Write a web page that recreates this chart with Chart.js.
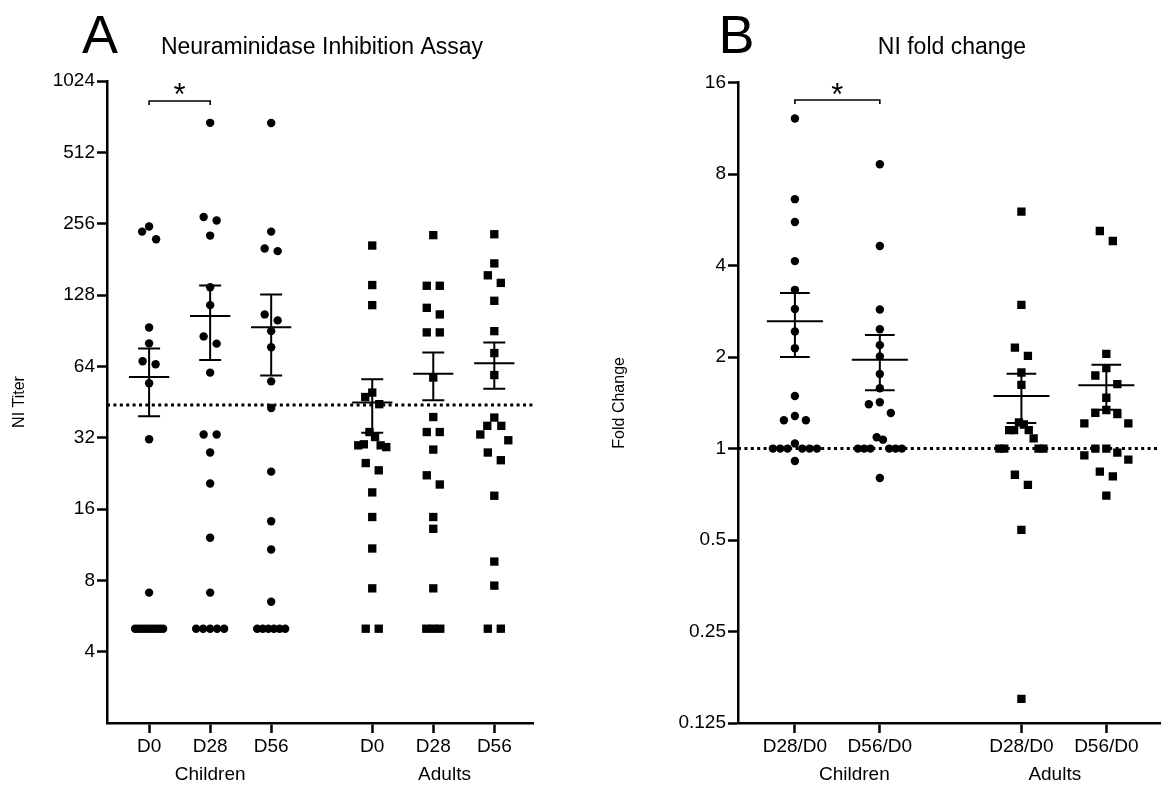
<!DOCTYPE html>
<html>
<head>
<meta charset="utf-8">
<title>Neuraminidase Inhibition Assay</title>
<script src="https://cdn.jsdelivr.net/npm/chart.js@4.4.1/dist/chart.umd.min.js"></script>
<style>
  body { margin: 0; background: #fff; }
  canvas { position: absolute; top: 0; }
</style>
</head>
<body>
<canvas id="chartA" width="583" height="787" style="left:0"></canvas>
<canvas id="chartB" width="583" height="787" style="left:583px"></canvas>
<script>
// panel A - NI titers per subject
var labelsA = ['D0', 'D28', 'D56', 'D0', 'D28', 'D56'];
var ticksA = [4, 8, 16, 32, 64, 128, 256, 512, 1024];
var childD0 = [249, 237, 220, 93.4, 80, 65.3, 67.2, 54.3, 31.5, 7.1, 5, 5, 5, 5, 5, 5, 5, 5, 5, 5];
var childD28 = [682, 273, 264, 228, 138, 116, 85.6, 79.8, 60.2, 33, 33, 27.7, 20.5, 12.1, 7.1, 5, 5, 5, 5, 5];
var childD56 = [681, 237, 196, 201, 106, 100, 90.1, 77, 55.3, 42.7, 23, 14.2, 10.8, 6.5, 5, 5, 5, 5, 5, 5];
var adultD0 = [207, 141, 116, 49.6, 47.5, 44.3, 33.8, 32.2, 29.7, 29.2, 29.7, 30, 25, 23.3, 18.8, 14.8, 10.9, 7.4, 5, 5];
var adultD28 = [229, 140, 140, 113, 106, 89, 89, 57.4, 39.1, 33.8, 33.8, 28.5, 22.2, 20.3, 14.8, 13.2, 7.4, 5, 5, 5];
var adultD56 = [231, 174, 155, 144, 121, 90.1, 72.8, 58.8, 38.9, 35.9, 35.9, 33, 31.2, 27.7, 25.7, 18.2, 9.6, 7.6, 5, 5];
var cutoffA = 44;

// panel B - fold change
var labelsB = ['D28/D0', 'D56/D0', 'D28/D0', 'D56/D0'];
var ticksB = [0.125, 0.25, 0.5, 1, 2, 4, 8, 16];
var childR28 = [12.2, 6.62, 5.57, 4.14, 3.33, 2.88, 2.43, 2.14, 1.49, 1.28, 1.24, 1.24, 1.04, 1, 1, 1, 1, 1, 1, 0.91];
var childR56 = [8.62, 4.64, 2.87, 2.47, 2.19, 2.01, 1.76, 1.58, 1.42, 1.40, 1.31, 1.09, 1.07, 1, 1, 1, 1, 1, 1, 0.80];
var adultR28 = [6.02, 2.97, 2.15, 2.02, 1.78, 1.62, 1.22, 1.15, 1.15, 1.15, 1.20, 1.08, 1, 1, 1, 1, 0.82, 0.76, 0.54, 0.15];
var adultR56 = [5.20, 4.82, 2.05, 1.84, 1.74, 1.63, 1.47, 1.31, 1.34, 1.30, 1.21, 1.21, 1, 1, 0.97, 0.92, 0.95, 0.84, 0.81, 0.70];
var cutoffB = 1;

var FONT = "'Liberation Sans', Arial, Helvetica, sans-serif";
Chart.defaults.font.family = FONT;
Chart.defaults.color = '#000';

function meanSem(a) {
  var n = a.length, m = 0, ss = 0;
  a.forEach(function(v){ m += v; });
  m = m / n;
  a.forEach(function(v){ ss += (v - m) * (v - m); });
  return { m: m, se: Math.sqrt(ss / (n - 1)) / Math.sqrt(n) };
}

// mean line + sem whiskers for every column, broken with null points
function errorBars(groups, pos, w, cw) {
  var d = [];
  groups.forEach(function(g, i){
    var s = meanSem(g), c = pos[i], hi = s.m + s.se, lo = s.m - s.se;
    d.push({x: c - w, y: s.m}, {x: c + w, y: s.m}, {x: c, y: null});
    d.push({x: c, y: lo}, {x: c, y: hi}, {x: c, y: null});
    d.push({x: c - cw, y: hi}, {x: c + cw, y: hi}, {x: c, y: null});
    d.push({x: c - cw, y: lo}, {x: c + cw, y: lo}, {x: c, y: null});
  });
  return d;
}

// spread points that would overlap, like a column scatter
function swarm(chart, idx, values, center, opt) {
  var xs = chart.scales.x, ys = chart.scales.y;
  var unit = xs.getPixelForValue(center + 1) - xs.getPixelForValue(center);
  var pts = values.map(function(v){ return { v: v, py: ys.getPixelForValue(v) }; });
  pts.sort(function(a, b){ return a.py - b.py; });
  var rows = [], cur = null;
  pts.forEach(function(p){
    if (cur && p.py - cur[cur.length - 1].py < opt.gap) cur.push(p);
    else { cur = [p]; rows.push(cur); }
  });
  var out = [];
  rows.forEach(function(row){
    var k = row.length;
    var sp = k === 2 ? opt.pair : Math.min(opt.step, opt.maxW / (k - 1));
    var slots = [];
    for (var i = 0; i < k; i++) slots.push((i - (k - 1) / 2) * sp);
    slots.sort(function(a, b){ return Math.abs(a) - Math.abs(b) || a - b; });
    row.forEach(function(p, i){ out.push({ x: center + slots[i] / unit, y: p.v }); });
  });
  chart.data.datasets[idx].data = out;
}

// panel letter, title, group names, significance bracket
var annot = {
  id: 'annot',
  afterDraw: function(chart, args, o) {
    var ctx = chart.ctx, xs = chart.scales.x;
    ctx.save();
    ctx.fillStyle = '#000';
    ctx.strokeStyle = '#000';
    ctx.textAlign = 'center';
    ctx.textBaseline = 'alphabetic';
    ctx.font = '54px ' + FONT;
    ctx.fillText(o.letter, o.letterX, o.letterY);
    ctx.font = o.titleSize + 'px ' + FONT;
    ctx.fillText(o.title, o.titleX, o.titleY);
    ctx.font = '19px ' + FONT;
    ctx.textBaseline = 'middle';
    o.groups.forEach(function(g){ ctx.fillText(g[0], xs.getPixelForValue(g[1]), o.groupY); });
    var x1 = xs.getPixelForValue(o.bracket[0]), x2 = xs.getPixelForValue(o.bracket[1]);
    ctx.lineWidth = 1.6;
    ctx.beginPath();
    ctx.moveTo(x1, o.bracketY + 4);
    ctx.lineTo(x1, o.bracketY);
    ctx.lineTo(x2, o.bracketY);
    ctx.lineTo(x2, o.bracketY + 4);
    ctx.stroke();
    ctx.textBaseline = 'alphabetic';
    ctx.font = '31px ' + FONT;
    ctx.fillText('*', (x1 + x2) / 2, o.starY);
    ctx.restore();
  }
};

function makePanel(id, p) {
  var datasets = [];
  p.groups.forEach(function(g, i){
    datasets.push({
      data: g.map(function(v){ return { x: p.pos[i], y: v }; }),
      pointStyle: p.shapes[i],
      pointRadius: p.shapes[i] === 'rect' ? 5.9 : 4.2,
      backgroundColor: '#000',
      borderWidth: 0
    });
  });
  datasets.push({
    type: 'line', data: errorBars(p.groups, p.pos, p.meanW, p.capW),
    borderColor: '#000', borderWidth: 2, pointRadius: 0, spanGaps: false, fill: false
  });
  datasets.push({
    type: 'line', data: [{ x: p.min, y: p.cutoff }, { x: p.max, y: p.cutoff }],
    borderColor: '#000', borderWidth: 3, borderDash: [3, 3.4], pointRadius: 0, fill: false
  });

  var axisGrid = { display: true, drawOnChartArea: false, drawTicks: true, tickLength: 10, tickWidth: 2.5, tickColor: '#000', color: '#000' };
  var chart = new Chart(document.getElementById(id).getContext('2d'), {
    type: 'scatter',
    data: { datasets: datasets },
    plugins: [annot],
    options: {
      responsive: false,
      animation: false,
      events: [],
      layout: { padding: { left: 0, top: p.top, right: p.right, bottom: 0 } },
      plugins: { legend: { display: false }, tooltip: { enabled: false }, annot: p.annot },
      scales: {
        x: {
          type: 'linear', min: p.min, max: p.max,
          grid: axisGrid,
          border: { display: true, color: '#000', width: 2.5 },
          afterBuildTicks: function(s){ s.ticks = p.pos.map(function(v){ return { value: v }; }); },
          afterFit: function(s){ s.height = 64; },
          ticks: {
            autoSkip: false, maxRotation: 0, padding: 2.6,
            font: { size: 19 },
            callback: function(v, i){ return p.labels[i]; }
          }
        },
        y: {
          type: 'logarithmic', min: p.ymin, max: p.ymax,
          grid: axisGrid,
          border: { display: true, color: '#000', width: 2.5 },
          afterBuildTicks: function(s){ s.ticks = p.ticks.map(function(v){ return { value: v }; }); },
          afterFit: function(s){ s.width = p.yWidth; },
          ticks: { padding: 2, font: { size: 19 }, callback: function(v){ return String(v); } },
          title: { display: true, text: p.yTitle, font: { size: 16 }, padding: { top: p.titlePad, bottom: 0 } }
        }
      }
    }
  });
  p.groups.forEach(function(g, i){ swarm(chart, i, g, p.pos[i], p.swarm); });
  chart.update('none');
  return chart;
}

makePanel('chartA', {
  groups: [childD0, childD28, childD56, adultD0, adultD28, adultD56],
  shapes: ['circle', 'circle', 'circle', 'rect', 'rect', 'rect'],
  labels: labelsA, ticks: ticksA, cutoff: cutoffA,
  pos: [1, 2, 3, 4.656, 5.656, 6.656], min: 0.31, max: 7.29,
  ymin: 2, ymax: 1024, yWidth: 107, top: 81, right: 50,
  yTitle: 'NI Titer', titlePad: 10.4,
  meanW: 0.33, capW: 0.18,
  swarm: { gap: 10.5, pair: 13, step: 7, maxW: 28 },
  annot: {
    letter: 'A', letterX: 100, letterY: 53,
    title: 'Neuraminidase Inhibition Assay', titleSize: 23, titleX: 322, titleY: 54,
    groups: [['Children', 2], ['Adults', 5.84]], groupY: 775,
    bracket: [1, 2], bracketY: 101, starY: 105
  }
});

makePanel('chartB', {
  groups: [childR28, childR56, adultR28, adultR56],
  shapes: ['circle', 'circle', 'rect', 'rect'],
  labels: labelsB, ticks: ticksB, cutoff: cutoffB,
  pos: [1, 2, 3.667, 4.667], min: 0.33, max: 5.3,
  ymin: 0.125, ymax: 16, yWidth: 155, top: 82.7, right: 3,
  yTitle: 'Fold Change', titlePad: 27.4,
  meanW: 0.33, capW: 0.175,
  swarm: { gap: 10.5, pair: 13, step: 11, maxW: 44 },
  annot: {
    letter: 'B', letterX: 153.5, letterY: 53,
    title: 'NI fold change', titleSize: 23, titleX: 369, titleY: 54,
    groups: [['Children', 1.7], ['Adults', 4.06]], groupY: 775,
    bracket: [1, 2], bracketY: 100, starY: 105
  }
});
</script>
</body>
</html>
